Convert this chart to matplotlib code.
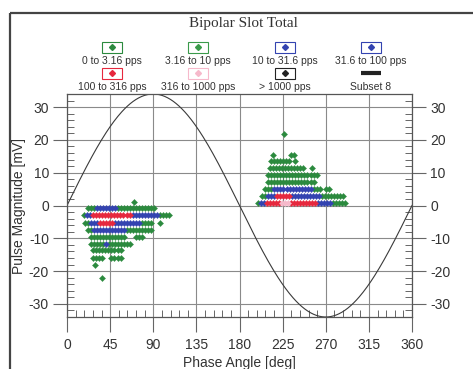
import numpy as np
import matplotlib
matplotlib.use('Agg')
import matplotlib.pyplot as plt
from matplotlib.patches import Rectangle
from matplotlib.ticker import MultipleLocator

plt.rcParams['font.family'] = ['Liberation Sans', 'DejaVu Sans']
plt.rcParams['axes.unicode_minus'] = False

# phase step between neighbouring dots in a row [deg]
step = 3.15

# rows of dots: (magnitude mV, first phase deg, colour codes per dot)
# g = 0..10 pps, b = 10..100 pps, r = 100..316 pps, p = 316..1000 pps, ' ' = empty
rowsNeg = [
	(-0.9,  21.6, 'gggbbbbbbbggggggggggggg'),
	(-3.0,  18.0, 'gbbrrrrrrrrrrrrrbbbbbbbbbgggg'),
	(-5.2,  18.8, 'ggbbbrrrrrbbbbbbbbbgggg  g'),
	(-7.4,  22.0, 'ggbbbbbbbbbbbggggggggg'),
	(-9.6,  24.7, 'gggggggggggg   ggg'),
	(-11.6, 24.7, 'gggggbgggggggg'),
	(-13.6, 27.5, 'gggggggggg'),
	(-16.0, 27.5, 'gggg  gggg'),
	(-18.0, 29.3, 'g'),
]
rowsPos = [
	(0.8,  199.0, 'gbbrrrrrppprrrrrrrrrbbbbbggggg'),
	(3.0,  203.0, 'ggbbbrrrrrbbbbbbbbbbgggggggg'),
	(5.0,  207.0, 'gggbbbbbbbbbbbbbggg gg'),
	(7.3,  210.0, 'gggggggggggggggg'),
	(9.3,  210.0, 'ggggggggggggggggg'),
	(11.4, 212.0, 'gggggggggggg  g'),
	(13.6, 213.0, 'ggggggg g'),
	(15.5, 214.5, 'g     gg'),
]
# single outlying pulses (phase deg, magnitude mV)
singlePhase = [70.0, 36.0, 226.0]
singleMag   = [1.0, -22.0, 21.7]

colours = {'g': '#2b8a3e', 'b': '#3343b0', 'r': '#e6283e', 'p': '#f6b9cb'}

legendLabels = ['0 to 3.16 pps', '3.16 to 10 pps', '10 to 31.6 pps', '31.6 to 100 pps',
	'100 to 316 pps', '316 to 1000 pps', '> 1000 pps', 'Subset 8']
legendColours = ['#2b8a3e', '#3a9a4a', '#3343b0', '#3343b0',
	'#e6283e', '#f6b9cb', '#222222', '#222222']

xTicks = [0, 45, 90, 135, 180, 225, 270, 315, 360]
yTicks = [-30, -20, -10, 0, 10, 20, 30]
amp = 34

dotX = {'g': [], 'b': [], 'r': [], 'p': []}
dotY = {'g': [], 'b': [], 'r': [], 'p': []}
for mv, start, codes in rowsNeg + rowsPos:
	for i, c in enumerate(codes):
		if c == ' ':
			continue
		dotX[c].append(start + i * step)
		dotY[c].append(mv)

fig = plt.figure(figsize=(4.73, 3.69), dpi=100)
W, H = 473.0, 369.0
ax = fig.add_axes([67 / W, 1 - 317 / H, 345 / W, 223 / H])

ax.set_xlim(0, 360)
ax.set_ylim(-amp, amp)
ax.set_xticks(xTicks)
ax.set_yticks(yTicks)
ax.xaxis.set_minor_locator(MultipleLocator(9))
ax.yaxis.set_minor_locator(MultipleLocator(2))
ax.grid(True, which='major', color='#8a8a8a', lw=0.8)
ax.set_axisbelow(True)
for s in ax.spines.values():
	s.set_color('#555555')
	s.set_linewidth(0.9)

ax.tick_params(which='major', direction='out', length=10, width=0.8, color='#666666',
	labelsize=10, labelcolor='#333333', pad=3, right=True, labelright=True)
ax.tick_params(axis='x', which='major', length=11, pad=4)
ax.tick_params(which='minor', direction='in', length=5, width=0.7, color='#666666',
	right=True, top=False)

# sine reference
ph = np.linspace(0, 360, 361)
ax.plot(ph, amp * np.sin(np.radians(ph)), color='#3a3a3a', lw=0.8)

for c in ['g', 'b', 'r', 'p']:
	ax.plot(dotX[c], dotY[c], ls='none', marker='D', ms=3.2, mfc=colours[c],
		mec=colours[c], mew=0.2)
ax.plot(singlePhase, singleMag, ls='none', marker='D', ms=3.2, mfc=colours['g'],
	mec=colours['g'], mew=0.2)

ax.set_xlabel('Phase Angle [deg]', fontsize=10, color='#333333', labelpad=3)
ax.set_ylabel('Pulse Magnitude [mV]', fontsize=10, color='#333333', va='center')
ax.yaxis.set_label_coords(-0.14, 0.5)

# title and legend in pixel coordinates of an overlay
ov = fig.add_axes([0, 0, 1, 1], facecolor='none')
ov.set_xlim(0, W)
ov.set_ylim(H, 0)
ov.axis('off')
ov.text(243, 24, 'Bipolar Slot Total', ha='center', va='center', fontsize=11,
	family='Liberation Serif', color='#333333')

colX = [112, 198, 285, 371]
boxY = [47, 73]
labY = [61, 87]
for k, lab in enumerate(legendLabels):
	cx = colX[k % 4]
	r = k // 4
	if lab == 'Subset 8':
		ov.plot([cx - 10, cx + 10], [boxY[r], boxY[r]], color='#222222', lw=3, solid_capstyle='butt')
	else:
		ov.add_patch(Rectangle((cx - 10, boxY[r] - 5.5), 20, 11, fill=False,
			ec=legendColours[k], lw=0.8))
		ov.plot([cx], [boxY[r]], ls='none', marker='D', ms=3, mfc=legendColours[k],
			mec=legendColours[k])
	ov.text(cx, labY[r], lab, ha='center', va='center', fontsize=7.5, color='#333333')

# outer frame
ov.add_patch(Rectangle((10, 13), 480, 380, fill=False, ec='#444444', lw=1.6))

fig.savefig('out.png', dpi=100)
